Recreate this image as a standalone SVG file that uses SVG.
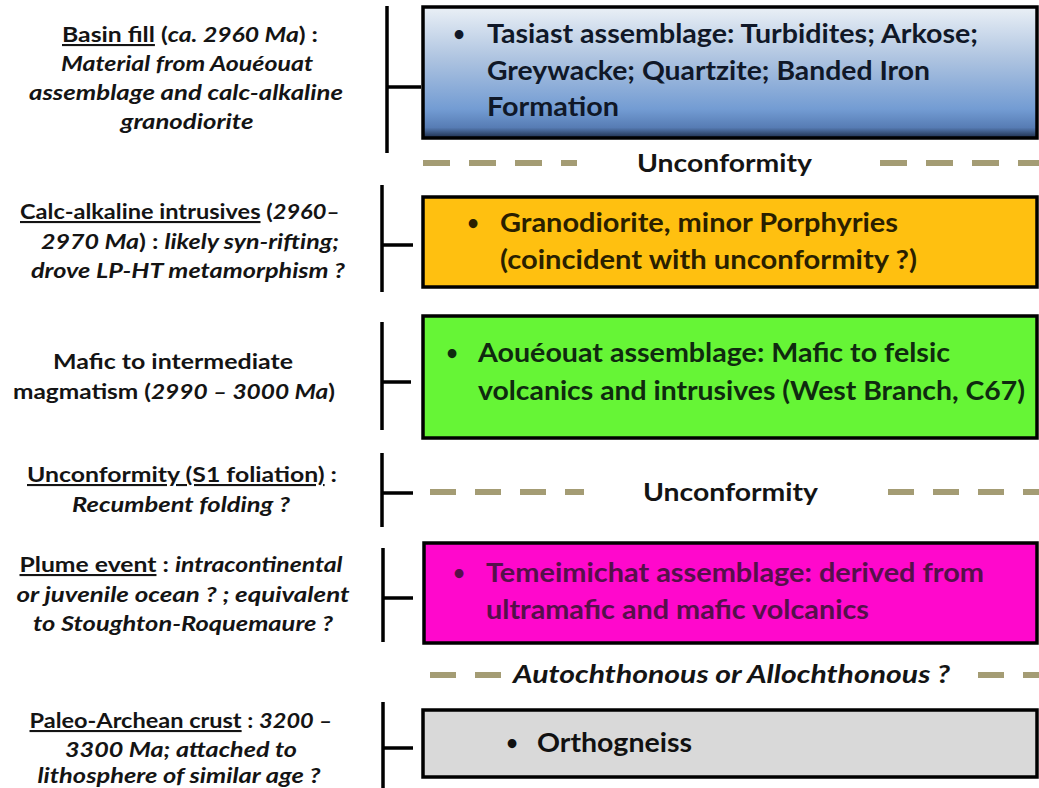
<svg xmlns="http://www.w3.org/2000/svg" width="1039" height="788" viewBox="0 0 1039 788">
<defs>
<linearGradient id="blueGrad" x1="0" y1="0" x2="0" y2="1">
<stop offset="0" stop-color="#eaf0f6"/>
<stop offset="0.4" stop-color="#adc3e0"/>
<stop offset="0.78" stop-color="#739cd3"/>
<stop offset="0.92" stop-color="#577cb4"/>
<stop offset="1" stop-color="#1c2c48"/>
</linearGradient>
<style>
.lt{font-family:Lato,"Open Sans","Liberation Sans",sans-serif;font-weight:bold;font-size:21px;fill:#141414;text-anchor:middle}
.bx{font-family:Lato,"Open Sans","Liberation Sans",sans-serif;font-weight:bold;font-size:26px}
.bul{font-family:Lato,"Open Sans","Liberation Sans",sans-serif;font-weight:bold;font-size:20px;text-anchor:middle}
.unc{font-family:Lato,"Open Sans","Liberation Sans",sans-serif;font-weight:bold;font-size:25px;fill:#141414}
.i{font-style:italic}
.u{text-decoration:underline}
.box{stroke:#000;stroke-width:3.5}
.br{stroke:#000;stroke-width:3.5;fill:none}
.dash{stroke:#a49c74;stroke-width:6}
</style>
</defs>
<rect width="1039" height="788" fill="#ffffff"/>

<!-- left descriptions -->
<g id="desc-basin">
<text class="lt" x="190" y="42" textLength="256" lengthAdjust="spacingAndGlyphs"><tspan class="u">Basin fill</tspan> (<tspan class="i">ca. 2960 Ma</tspan>) :</text>
<text class="lt i" x="187" y="71" textLength="252" lengthAdjust="spacingAndGlyphs">Material from Aouéouat</text>
<text class="lt i" x="186" y="100" textLength="314" lengthAdjust="spacingAndGlyphs">assemblage  and calc-alkaline</text>
<text class="lt i" x="187" y="129" textLength="133" lengthAdjust="spacingAndGlyphs">granodiorite</text>
</g>
<g id="desc-calc">
<text class="lt" x="180" y="219" textLength="320" lengthAdjust="spacingAndGlyphs"><tspan class="u">Calc-alkaline intrusives</tspan> (<tspan class="i">2960–</tspan></text>
<text class="lt" x="190" y="249" textLength="298" lengthAdjust="spacingAndGlyphs"><tspan class="i">2970 Ma</tspan>) : <tspan class="i">likely syn-rifting;</tspan></text>
<text class="lt i" x="188" y="278" textLength="314" lengthAdjust="spacingAndGlyphs">drove LP-HT metamorphism ?</text>
</g>
<g id="desc-mafic">
<text class="lt" x="173" y="369" textLength="240" lengthAdjust="spacingAndGlyphs">Mafic to intermediate</text>
<text class="lt" x="174" y="399" textLength="322" lengthAdjust="spacingAndGlyphs">magmatism (<tspan class="i">2990 – 3000 Ma</tspan>)</text>
</g>
<g id="desc-unconf">
<text class="lt" x="182" y="482" textLength="310" lengthAdjust="spacingAndGlyphs"><tspan class="u">Unconformity (S1 foliation)</tspan> :</text>
<text class="lt i" x="181" y="512" textLength="218" lengthAdjust="spacingAndGlyphs">Recumbent folding  ?</text>
</g>
<g id="desc-plume">
<text class="lt" x="181" y="572" textLength="323" lengthAdjust="spacingAndGlyphs"><tspan class="u">Plume event</tspan> : <tspan class="i">intracontinental</tspan></text>
<text class="lt i" x="183" y="602" textLength="333" lengthAdjust="spacingAndGlyphs">or juvenile ocean ? ; equivalent</text>
<text class="lt i" x="183" y="631" textLength="300" lengthAdjust="spacingAndGlyphs">to Stoughton-Roquemaure  ?</text>
</g>
<g id="desc-paleo">
<text class="lt" x="181" y="728" textLength="303" lengthAdjust="spacingAndGlyphs"><tspan class="u">Paleo-Archean crust</tspan> : <tspan class="i">3200 –</tspan></text>
<text class="lt i" x="181" y="757" textLength="232" lengthAdjust="spacingAndGlyphs">3300 Ma; attached to</text>
<text class="lt i" x="179" y="783" textLength="283" lengthAdjust="spacingAndGlyphs">lithosphere of similar age ?</text>
</g>

<!-- connectors: brackets -->
<g id="connectors">
<path class="br" d="M387 6V153M387 87H421"/>
<path class="br" d="M382 185V292M382 245H413"/>
<path class="br" d="M382 322V430M382 382H411"/>
<path class="br" d="M382 453V527M382 493H413"/>
<path class="br" d="M383 548V642M383 598H413"/>
<path class="br" d="M383 702V788M383 748H413"/>
</g>

<!-- stratigraphic boxes -->
<g id="box-tasiast">
<rect class="box" x="423" y="7" width="614" height="131" fill="url(#blueGrad)"/>
<text class="bul" x="459" y="41" fill="#101828">•</text>
<text class="bx" x="487" y="43" fill="#101828" textLength="491" lengthAdjust="spacingAndGlyphs">Tasiast assemblage: Turbidites; Arkose;</text>
<text class="bx" x="487" y="80" fill="#101828" textLength="443" lengthAdjust="spacingAndGlyphs">Greywacke; Quartzite; Banded Iron</text>
<text class="bx" x="487" y="116" fill="#101828" textLength="132" lengthAdjust="spacingAndGlyphs">Formation</text>
</g>
<g id="sep-unconformity-1">
<line class="dash" x1="423" y1="163" x2="577" y2="163" stroke-dasharray="27 19"/>
<text class="unc" x="637" y="172" textLength="175" lengthAdjust="spacingAndGlyphs">Unconformity</text>
<line class="dash" x1="880" y1="163" x2="1039" y2="163" stroke-dasharray="27 19"/>
</g>
<g id="box-granodiorite">
<rect class="box" x="423" y="197" width="614" height="90" fill="#ffc010"/>
<text class="bul" x="473" y="230" fill="#2a1f00">•</text>
<text class="bx" x="500" y="232" fill="#2a1f00" textLength="398" lengthAdjust="spacingAndGlyphs">Granodiorite, minor Porphyries</text>
<text class="bx" x="500" y="269" fill="#2a1f00" textLength="417" lengthAdjust="spacingAndGlyphs">(coincident with unconformity ?)</text>
</g>
<g id="box-aoueouat">
<rect class="box" x="423" y="316" width="614" height="122" fill="#66f536"/>
<text class="bul" x="452" y="360" fill="#0f2a0f">•</text>
<text class="bx" x="478" y="362" fill="#0f2a0f" textLength="472" lengthAdjust="spacingAndGlyphs">Aouéouat assemblage: Mafic to felsic</text>
<text class="bx" x="478" y="400" fill="#0f2a0f" textLength="547" lengthAdjust="spacingAndGlyphs">volcanics and intrusives (West Branch, C67)</text>
</g>
<g id="sep-unconformity-2">
<line class="dash" x1="430" y1="492" x2="584" y2="492" stroke-dasharray="26 19"/>
<text class="unc" x="643" y="501" textLength="175" lengthAdjust="spacingAndGlyphs">Unconformity</text>
<line class="dash" x1="888" y1="492" x2="1039" y2="492" stroke-dasharray="26 19"/>
</g>
<g id="box-temeimichat">
<rect class="box" x="424" y="543" width="613" height="100" fill="#ff08cc"/>
<text class="bul" x="459" y="580" fill="#55104a">•</text>
<text class="bx" x="486" y="582" fill="#55104a" textLength="498" lengthAdjust="spacingAndGlyphs">Temeimichat assemblage: derived from</text>
<text class="bx" x="486" y="619" fill="#55104a" textLength="383" lengthAdjust="spacingAndGlyphs">ultramafic and mafic volcanics</text>
</g>
<g id="sep-autochthonous">
<line class="dash" x1="430" y1="675" x2="502" y2="675" stroke-dasharray="26 19"/>
<text class="unc i" x="513" y="683" textLength="437" lengthAdjust="spacingAndGlyphs">Autochthonous or Allochthonous ?</text>
<line class="dash" x1="978" y1="675" x2="1039" y2="675" stroke-dasharray="26 19"/>
</g>
<g id="box-orthogneiss">
<rect class="box" x="423" y="710" width="614" height="67" fill="#d9d9d9"/>
<text class="bul" x="512" y="750" fill="#111">•</text>
<text class="bx" x="537" y="752" fill="#111" textLength="155" lengthAdjust="spacingAndGlyphs">Orthogneiss</text>
</g>
</svg>
